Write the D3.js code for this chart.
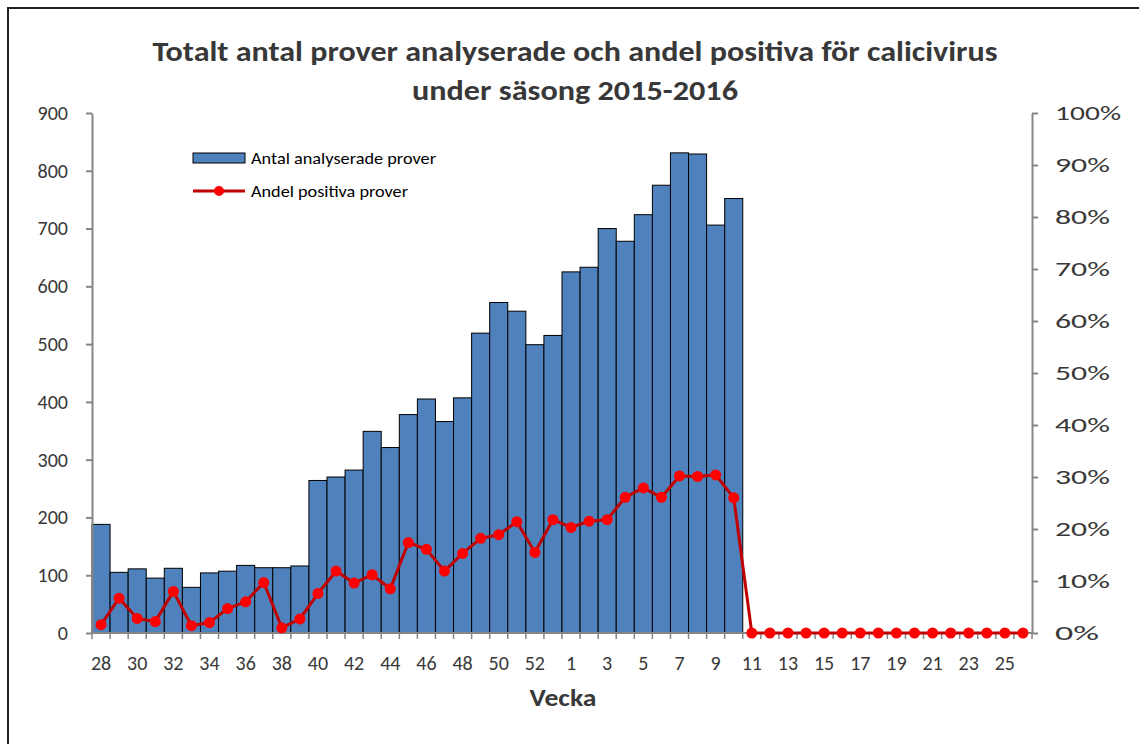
<!DOCTYPE html>
<html>
<head>
<meta charset="utf-8">
<script src="https://cdn.jsdelivr.net/npm/d3@7"></script>
<style>
  body { margin: 0; background: #fff; }
  text { font-family: Carlito, Lato, "Open Sans", sans-serif; }
</style>
</head>
<body>
<div id="chart"></div>
<script>
// weeks of season 2015-2016 (2015 has week 53)
const weeks = [28, 29, 30, 31, 32, 33, 34, 35, 36, 37, 38, 39, 40, 41, 42, 43, 44, 45, 46, 47, 48, 49, 50, 51, 52, 53,
               1, 2, 3, 4, 5, 6, 7, 8, 9, 10, 11, 12, 13, 14, 15, 16, 17, 18, 19, 20, 21, 22, 23, 24, 25, 26]
const antal = [188, 105, 111, 95, 112, 79, 104, 107, 117, 113, 113, 116, 264, 270, 282, 349, 321, 378, 405, 366, 407, 519, 572, 557, 499, 515,
               625, 633, 700, 678, 724, 775, 831, 829, 706, 752]
const andel = [1.6, 6.7, 2.8, 2.2, 8.0, 1.4, 2.0, 4.7, 6.0, 9.7, 1.0, 2.7, 7.6, 11.9, 9.6, 11.2, 8.5, 17.4, 16.1, 11.9, 15.3, 18.2, 18.9, 21.4, 15.5, 21.8,
               20.3, 21.5, 21.8, 26.1, 27.9, 26.1, 30.2, 30.1, 30.4, 26.0, 0, 0, 0, 0, 0, 0, 0, 0, 0, 0, 0, 0, 0, 0, 0, 0]
const leftTicks = [0, 100, 200, 300, 400, 500, 600, 700, 800, 900]
const rightTicks = [0, 10, 20, 30, 40, 50, 60, 70, 80, 90, 100]
const titleLines = ['Totalt antal prover analyserade och andel positiva för calicivirus', 'under säsong 2015-2016']
const titleWidths = [845, 326]

const width = 1139
const height = 744
const margin = { top: 113, bottom: 111, left: 92, right: 107 }
const axisColor = '#868686'
const textColor = '#383838'

const svg = d3.select('#chart')
              .append('svg')
              .attr('width', width)
              .attr('height', height)

// outer frame (only top/left visible in the picture)
svg.append('rect')
   .attr('x', 8).attr('y', 8)
   .attr('width', width + 20).attr('height', height + 20)
   .attr('fill', 'none')
   .attr('stroke', '#222')
   .attr('stroke-width', 2)

const x = d3.scaleBand()
            .domain(weeks.map((_, i) => i))
            .range([margin.left, width - margin.right])
            .padding(0)

const yLeft = d3.scaleLinear()
                .domain([0, 900])
                .range([height - margin.bottom, margin.top])

const yRight = d3.scaleLinear()
                 .domain([0, 100])
                 .range([height - margin.bottom, margin.top])

// bars
svg.append('g')
   .selectAll('rect')
   .data(antal)
   .enter()
   .append('rect')
   .attr('x', (_, i) => x(i))
   .attr('y', d => yLeft(d))
   .attr('width', x.bandwidth())
   .attr('height', d => yLeft(0) - yLeft(d))
   .attr('fill', '#4F81BD')
   .attr('stroke', '#000')
   .attr('stroke-width', 1)

// left axis
const gl = svg.append('g')
              .attr('transform', `translate(${margin.left}, 0)`)
              .call(d3.axisLeft(yLeft).tickValues(leftTicks).tickSize(6).tickPadding(18).tickSizeOuter(0))
gl.select('.domain').attr('stroke', axisColor).attr('stroke-width', 2)
gl.selectAll('.tick line').attr('stroke', axisColor).attr('stroke-width', 2)
gl.selectAll('.tick text').attr('fill', textColor).style('font-size', '20px')

// right axis
const gr = svg.append('g')
              .attr('transform', `translate(${width - margin.right}, 0)`)
              .call(d3.axisRight(yRight).tickValues(rightTicks).tickSize(6).tickPadding(17).tickSizeOuter(0)
                      .tickFormat(d => d + '%'))
gr.select('.domain').attr('stroke', axisColor).attr('stroke-width', 2)
gr.selectAll('.tick line').attr('stroke', axisColor).attr('stroke-width', 2)
gr.selectAll('.tick text').attr('fill', textColor).style('font-size', '21px')
  .attr('lengthAdjust', 'spacingAndGlyphs')
  .attr('textLength', d => d === 100 ? 66 : (d === 0 ? 44 : 55))

// bottom axis: line + ticks at category boundaries
const gb = svg.append('g')
              .attr('transform', `translate(0, ${height - margin.bottom})`)
gb.append('line')
  .attr('x1', margin.left).attr('x2', width - margin.right)
  .attr('stroke', axisColor).attr('stroke-width', 2)
gb.selectAll('line.tk')
  .data(weeks.map((_, i) => i).concat([weeks.length]))
  .enter()
  .append('line')
  .attr('class', 'tk')
  .attr('x1', i => i < weeks.length ? x(i) : x(weeks.length - 1) + x.bandwidth())
  .attr('x2', i => i < weeks.length ? x(i) : x(weeks.length - 1) + x.bandwidth())
  .attr('y1', 0).attr('y2', 6)
  .attr('stroke', axisColor).attr('stroke-width', 1.5)
gb.selectAll('text')
  .data(weeks.filter((_, i) => i % 2 === 0))
  .enter()
  .append('text')
  .attr('x', (_, j) => x(j * 2) + x.bandwidth() / 2)
  .attr('y', 37)
  .attr('text-anchor', 'middle')
  .attr('fill', textColor)
  .style('font-size', '20px')
  .text(d => d)

// line series
const line = d3.line()
               .x((_, i) => x(i) + x.bandwidth() / 2)
               .y(d => yRight(d))

svg.append('path')
   .datum(andel)
   .attr('fill', 'none')
   .attr('stroke', '#C00000')
   .attr('stroke-width', 3)
   .attr('d', line)

svg.append('g')
   .selectAll('circle')
   .data(andel)
   .enter()
   .append('circle')
   .attr('cx', (_, i) => x(i) + x.bandwidth() / 2)
   .attr('cy', d => yRight(d))
   .attr('r', 5.5)
   .attr('fill', '#FF0000')

// title
svg.append('g')
   .selectAll('text')
   .data(titleLines)
   .enter()
   .append('text')
   .attr('x', 575)
   .attr('y', (_, i) => 61 + i * 39)
   .attr('text-anchor', 'middle')
   .attr('textLength', (_, i) => titleWidths[i])
   .attr('lengthAdjust', 'spacingAndGlyphs')
   .attr('fill', textColor)
   .style('font-size', '29px')
   .style('font-weight', 'bold')
   .text(d => d)

// x axis title
svg.append('text')
   .attr('x', 563)
   .attr('y', 706)
   .attr('text-anchor', 'middle')
   .attr('textLength', 67)
   .attr('lengthAdjust', 'spacingAndGlyphs')
   .attr('fill', textColor)
   .style('font-size', '24px')
   .style('font-weight', 'bold')
   .text('Vecka')

// legend
const legend = svg.append('g').attr('transform', 'translate(193, 158)')
legend.append('rect')
      .attr('x', 0).attr('y', -5)
      .attr('width', 52).attr('height', 10)
      .attr('fill', '#4F81BD').attr('stroke', '#000')
legend.append('text')
      .attr('x', 58).attr('y', 6)
      .attr('textLength', 185)
      .attr('lengthAdjust', 'spacingAndGlyphs')
      .attr('fill', '#000')
      .style('font-size', '17px')
      .text('Antal analyserade prover')
legend.append('line')
      .attr('x1', 0).attr('x2', 52)
      .attr('y1', 33).attr('y2', 33)
      .attr('stroke', '#C00000').attr('stroke-width', 3)
legend.append('circle')
      .attr('cx', 26).attr('cy', 33).attr('r', 5)
      .attr('fill', '#FF0000')
legend.append('text')
      .attr('x', 58).attr('y', 39)
      .attr('textLength', 157)
      .attr('lengthAdjust', 'spacingAndGlyphs')
      .attr('fill', '#000')
      .style('font-size', '17px')
      .text('Andel positiva prover')
</script>
</body>
</html>
